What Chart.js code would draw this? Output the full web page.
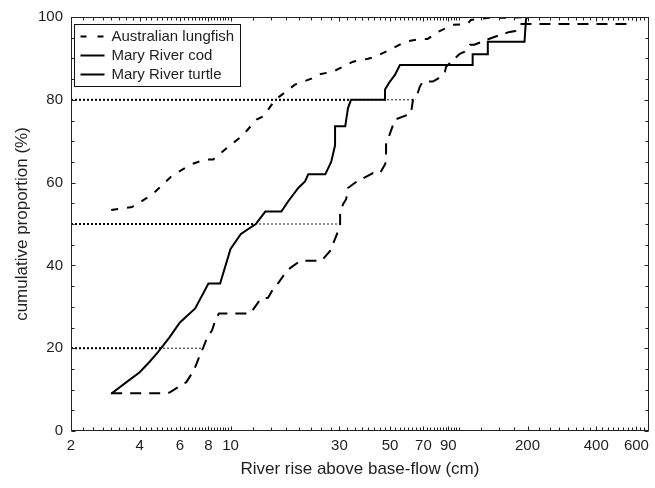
<!DOCTYPE html>
<html><head><meta charset="utf-8">
<script src="https://cdn.jsdelivr.net/npm/chart.js@4.4.1/dist/chart.umd.min.js"></script>
<style>html,body{margin:0;padding:0;background:#fff;}#wrap{width:655px;height:488px;}</style>
</head><body><div id="wrap"><canvas id="c" width="655" height="488"></canvas></div>
<script>
// ---- data ----
const seriesNames = ["Australian lungfish", "Mary River cod", "Mary River turtle"];

const lungfishX = [3.0,3.7,4.3,4.7,5.5,6.7,7.8,8.4,9.6,11.2,13.0,13.9,15.7,19.2,22.6,24.2,28.1,34.4,40,43,50,58,68,73,81,94,109,113,134,167,200,500];
const lungfishY = [53.4,54.1,56.3,57.9,61.5,64.4,65.6,65.6,68.3,71.2,75.2,76,80,83.7,85.1,86.1,86.8,89.2,89.9,90.4,92.1,94,94.7,94.7,96.4,98.1,98.3,99.3,99.8,99.8,100,100];

const codX = [3.0,3.5,4.0,4.4,4.8,5.4,6.0,7.0,8.0,9.0,10.0,11.1,12.9,14.2,16.7,17.9,19.8,21.2,21.9,26.0,27.6,28.7,28.7,31.8,32.7,33.7,47.5,47.5,49.9,52.5,55.2,115,115,134,134,194,197,200,680];
const codY = [9,11.8,14.2,16.6,19,22.6,26.2,29.6,35.6,35.6,44,47.6,50,53,53,55.5,58.7,60.3,62,62,65,69,73.6,73.6,78,80,80,82.5,84.4,86,88.4,88.4,91,91,94,94,99.5,100,100];

const turtleX = [3.0,5.0,5.4,5.9,6.4,6.9,7.1,7.4,7.6,7.9,8.3,8.6,8.9,12.2,13.6,14.6,15.4,16.2,17.4,18.3,20.2,25.0,27.3,28.7,29.6,30.2,30.2,31.1,32.1,32.7,34.4,36.9,38.0,42.1,45.2,47.5,48.0,48.0,52.5,61.7,63.0,64.9,67.5,69.6,76.9,81,86.9,88,101,106,112,117,140,167,177,186,547];
const turtleY = [9.1,9.1,9.3,10.6,11.8,14.6,16.3,18.8,20.2,22.6,24.3,27,28.4,28.4,32,32.2,34.4,35.8,38.2,39.4,41.1,41.1,43.5,46.4,48.3,50,52.4,54.8,56,58.7,59.6,60.8,61,62.3,62.3,64.4,65.1,69.2,75.2,76.7,80,80.3,83.2,84.4,84.4,85.1,86.8,88,91.1,91.6,93.3,93.3,95,96.4,96.6,98.3,98.3];

// percentile reference lines (level, where the solid curve reaches it, where the lower dashed curve reaches it)
const refLevels = [20, 50, 80];
const refSolidEnd = [5.0, 12.9, 33.7];
const refDashedEnd = [7.6, 30.2, 64.5];

const xTickLabels = [2,4,6,8,10,30,50,70,90,200,400,600];
const yTickLabels = [0,20,40,60,80,100];
const xMin = 2, xMax = 680;

// minor tick values
const xMinor = [];
for (let v = 2; v <= 10.001; v += 0.25) xMinor.push(+v.toFixed(2));
for (let v = 12.5; v <= 100.001; v += 2.5) xMinor.push(+v.toFixed(2));
for (let v = 125; v <= 675; v += 25) xMinor.push(v);
const yMinor = [];
for (let v = 5; v < 100; v += 5) yMinor.push(v);

const pts = (xs, ys) => xs.map((x, i) => ({x, y: ys[i]}));
const TXT = '#1e1e1e';
const FONT = "'Liberation Sans', Arial, sans-serif";

const datasets = [
  {label: seriesNames[0], data: pts(lungfishX, lungfishY), borderColor:'#000', borderWidth:2, borderDash:[7,9], legendDash:[6,11], inLegend:true},
  {label: seriesNames[1], data: pts(codX, codY), borderColor:'#000', borderWidth:2, borderDash:[], legendDash:[], inLegend:true},
  {label: seriesNames[2], data: pts(turtleX, turtleY), borderColor:'#000', borderWidth:2, borderDash:[11,8], legendDash:[], inLegend:true},
];
refLevels.forEach((lv, i) => {
  datasets.push({label:'ref'+lv+'b', data:[{x:xMin,y:lv},{x:refSolidEnd[i],y:lv}], borderColor:'#000', borderWidth:2, borderDash:[2,2], inLegend:false});
  datasets.push({label:'ref'+lv+'t', data:[{x:xMin,y:lv},{x:refDashedEnd[i],y:lv}], borderColor:'#222', borderWidth:1, borderDash:[2,2], inLegend:false});
});
datasets.forEach(d => { d.pointRadius = 0; d.tension = 0; d.fill = false; d.borderCapStyle='butt'; });

const framePlugin = {
  id: 'frame',
  afterDatasetsDraw(chart) {
    const {ctx, chartArea: a, scales: {x, y}} = chart;
    ctx.save();
    ctx.strokeStyle = '#222';
    ctx.lineWidth = 1;
    ctx.setLineDash([]);
    const L = Math.round(a.left) + 0.5, R = Math.round(a.right) - 0.5, T = Math.round(a.top) + 0.5, B = Math.round(a.bottom) - 0.5;
    ctx.strokeRect(L, T, R - L, B - T);
    ctx.beginPath();
    const tickX = (v, len) => { const p = Math.round(x.getPixelForValue(v)) + 0.5; ctx.moveTo(p, B); ctx.lineTo(p, B - len); ctx.moveTo(p, T); ctx.lineTo(p, T + len); };
    const tickY = (v, len) => { const p = Math.round(y.getPixelForValue(v)) + 0.5; ctx.moveTo(L, p); ctx.lineTo(L + len, p); ctx.moveTo(R, p); ctx.lineTo(R - len, p); };
    xMinor.forEach(v => tickX(v, 3));
    xTickLabels.forEach(v => tickX(v, 4));
    yMinor.forEach(v => tickY(v, 3));
    yTickLabels.forEach(v => tickY(v, 4));
    ctx.stroke();
    ctx.restore();
  }
};

const legendPlugin = {
  id: 'boxLegend',
  afterDraw(chart) {
    const {ctx, chartArea: a} = chart;
    const items = chart.data.datasets.filter(d => d.inLegend);
    const bx = a.left + 3.5, by = a.top + 7.5, bw = 166, bh = 62;
    ctx.save();
    ctx.fillStyle = '#fff';
    ctx.fillRect(bx, by, bw, bh);
    ctx.strokeStyle = '#111';
    ctx.lineWidth = 1;
    ctx.setLineDash([]);
    ctx.strokeRect(bx, by, bw, bh);
    ctx.font = '15px ' + FONT;
    ctx.textBaseline = 'middle';
    ctx.fillStyle = TXT;
    items.forEach((d, i) => {
      const yy = by + 12 + i * 19;
      ctx.beginPath();
      ctx.lineWidth = 2;
      ctx.strokeStyle = '#000';
      ctx.setLineDash(d.legendDash);
      ctx.moveTo(bx + 6, yy); ctx.lineTo(bx + 30, yy);
      ctx.stroke();
      ctx.setLineDash([]);
      ctx.fillText(d.label, bx + 37, yy + 0.5);
    });
    ctx.restore();
  }
};

new Chart(document.getElementById('c'), {
  type: 'line',
  data: {datasets},
  options: {
    responsive: false, animation: false, devicePixelRatio: 1,
    layout: {padding: {left: 0, right: 3, top: 15, bottom: 0}},
    plugins: {legend: {display: false}, tooltip: {enabled: false}},
    scales: {
      x: {
        type: 'logarithmic', min: xMin, max: xMax, position: 'bottom',
        afterBuildTicks: s => { s.ticks = xTickLabels.map(v => ({value: v})); },
        afterFit: s => { s.height = 57; },
        ticks: {autoSkip: false, maxRotation: 0, padding: 6, color: TXT, font: {family: FONT, size: 15}, callback: v => String(v)},
        grid: {display: false, drawTicks: false},
        border: {display: false},
        title: {display: true, text: 'River rise above base-flow (cm)', color: TXT, font: {family: FONT, size: 17}, padding: {top: 0, bottom: 8}}
      },
      y: {
        type: 'linear', min: 0, max: 100,
        afterBuildTicks: s => { s.ticks = yTickLabels.map(v => ({value: v})); },
        afterFit: s => { s.width = 71; },
        ticks: {padding: 8, color: TXT, font: {family: FONT, size: 15}},
        grid: {display: false, drawTicks: false},
        border: {display: false},
        title: {display: true, text: 'cumulative proportion (%)', color: TXT, font: {family: FONT, size: 17}, padding: {top: 12, bottom: 0}}
      }
    }
  },
  plugins: [framePlugin, legendPlugin]
});
</script>
</body></html>
